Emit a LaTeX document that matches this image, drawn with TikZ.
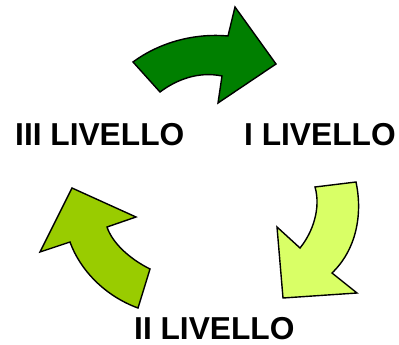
\documentclass[tikz,border=0pt]{standalone}
\usepackage{fontspec}
\setmainfont{Liberation Sans}
\definecolor{gdark}{HTML}{007F00}
\definecolor{glight}{HTML}{D9FF66}
\definecolor{gmid}{HTML}{99CC00}
\begin{document}
\begin{tikzpicture}[x=1pt,y=-1pt,
  arr/.style={draw=black,line width=1.4pt,line join=miter},
  lbl/.style={font=\fontsize{31.7}{32}\selectfont\bfseries,inner sep=0pt,anchor=base west}]
\useasboundingbox (0,0) rectangle (399,345);
% top arrow
\draw[arr,fill=gdark] (133,62) .. controls (160,42) and (195,33) .. (228,36)
  -- (235,7) -- (276,64) -- (218,103) -- (222,76)
  .. controls (198,71) and (176,80) .. (160,92) -- cycle;
% right arrow
\draw[arr,fill=glight] (315,187) -- (356,182)
  .. controls (363,215) and (356,250) .. (332,273)
  -- (357,293) -- (283,298) -- (277,227) -- (300,248)
  .. controls (313,232) and (321,208) .. cycle;
% left arrow
\draw[arr,fill=gmid] (138,308) -- (150,269)
  .. controls (128,258) and (112,242) .. (107,227)
  -- (136,217) -- (72,188) -- (40,252) -- (70,242)
  .. controls (80,270) and (105,296) .. cycle;
\node[lbl] (l3) at (15,145) {III LIVELLO};
\node[lbl] (l1) at (244,145) {I LIVELLO};
\node[lbl] (l2) at (134,339) {II LIVELLO};
\end{tikzpicture}
\end{document}
